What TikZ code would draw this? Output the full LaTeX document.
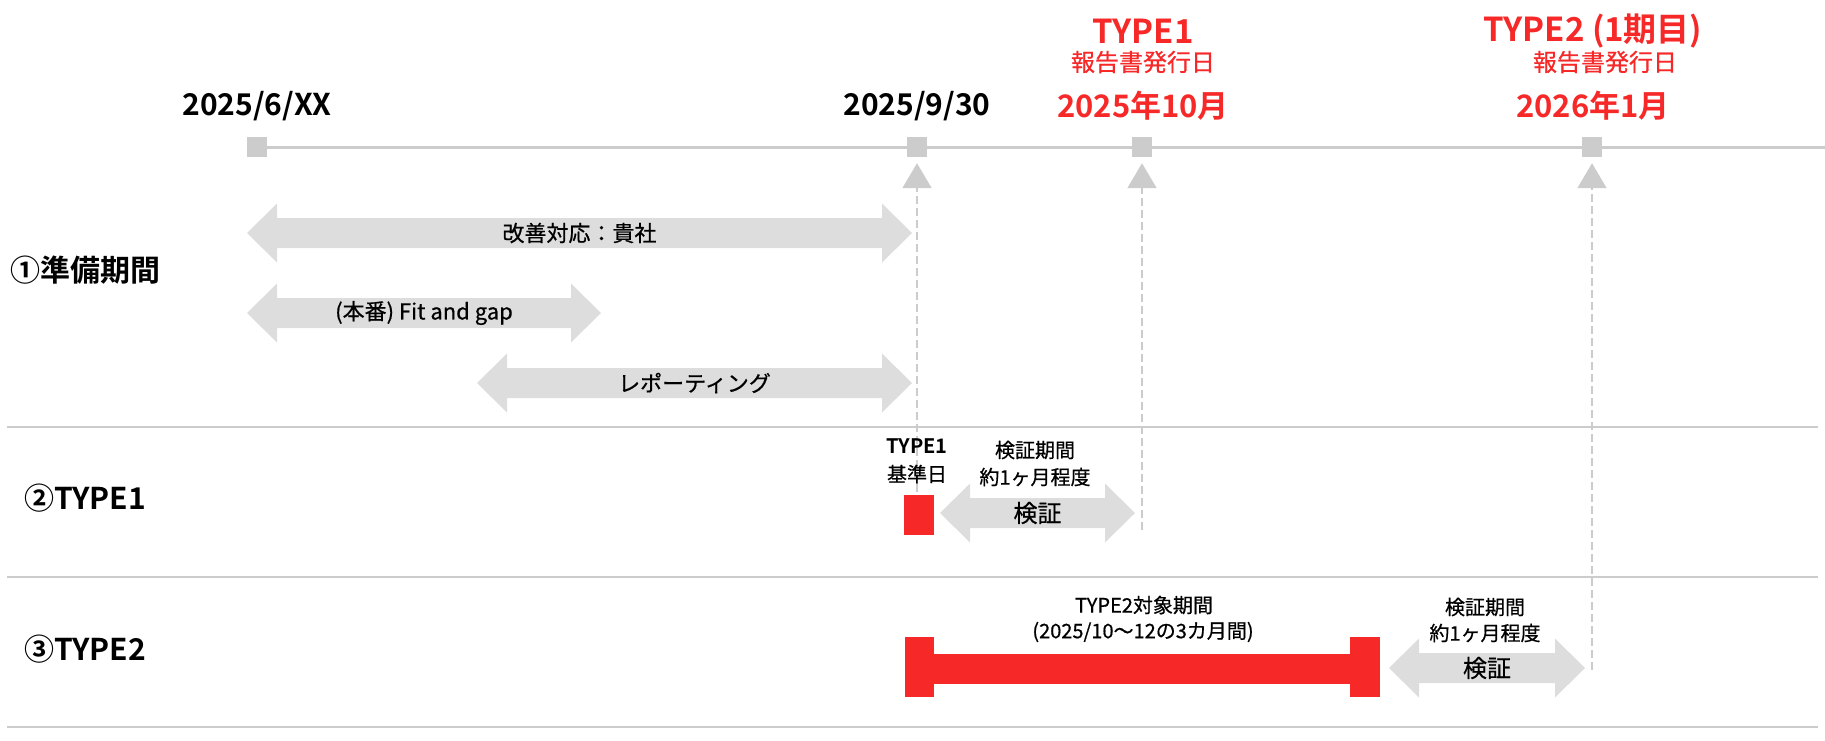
\documentclass[tikz,border=0pt]{standalone}
\usepackage{fontspec}
\setmainfont{Noto Sans CJK JP}[BoldFont={Noto Sans CJK JP Bold}]
\newfontfamily\medfont{Noto Sans CJK JP}[FakeBold=0.6]
\usetikzlibrary{arrows.meta}
\definecolor{linegray}{HTML}{CCCCCC}
\definecolor{boxgray}{HTML}{DDDDDD}
\definecolor{repred}{HTML}{F62828}
\newcommand{\spanarrow}[5]{%
  \fill[boxgray] (#2,#4) -- (#2+30,#4+29.5) -- (#2+30,#4+15) -- (#3-30,#4+15)
    -- (#3-30,#4+29.5) -- (#3,#4) -- (#3-30,#4-29.5) -- (#3-30,#4-15)
    -- (#2+30,#4-15) -- (#2+30,#4-29.5) -- cycle;
  \node[midtext] (#1) at ({(#2+#3)/2},#4) {#5};}
\begin{document}
\begin{tikzpicture}[x=1pt,y=1pt,
    tick/.style={fill=linegray,minimum size=20pt,inner sep=0pt},
    rule/.style={linegray,line width=2pt},
    guide/.style={linegray,line width=2pt,dash pattern=on 8pt off 4pt,shorten >=6pt,
      -{Triangle[width=29pt,length=25pt]}},
    date/.style={inner sep=0pt,font=\bfseries\fontsize{30}{32}\selectfont},
    issue/.style={inner sep=0pt,text=repred,font=\bfseries\fontsize{33}{35}\selectfont},
    issuedate/.style={issue,font=\bfseries\fontsize{31}{33}\selectfont},
    issuesub/.style={inner sep=0pt,text=repred,font=\medfont\fontsize{24}{26}\selectfont},
    rowlab/.style={inner sep=0pt,font=\bfseries\fontsize{30}{32}\selectfont},
    midtext/.style={inner sep=0pt,font=\medfont\fontsize{22}{24}\selectfont},
    note/.style={inner sep=0pt,font=\medfont\fontsize{20}{22}\selectfont}]
  \useasboundingbox (0,0) rectangle (1825,-740);
  \draw[rule,line width=3pt] (257,-147) -- (1825,-147);
  \foreach \x/\n in {257/1,917/2,1142/3,1592/4}
    \node[tick] (t\n) at (\x,-147) {};
  \foreach \y in {-427,-577,-727}
    \draw[rule] (7,\y) -- (1818,\y);
  \coordinate (e2) at (917,-492);
  \coordinate (e3) at (1142,-530);
  \coordinate (e4) at (1592,-670);
  \foreach \n in {2,3,4}
    \draw[guide] (e\n) -- (t\n.south);
  \node[date] (d1) at (257,-106) {2025/6/XX};
  \node[date] (d2) at (917,-106) {2025/9/30};
  \node[issue] (i1) at (1143,-31) {TYPE1};
  \node[issuesub] (s1) at (1143,-62) {報告書発行日};
  \node[issuedate] (m1) at (1143,-106) {2025年10月};
  \node[issue] (i2) at (1593,-31) {TYPE2 (1期目)};
  \node[issuesub] (s2) at (1605,-62) {報告書発行日};
  \node[issuedate] (m2) at (1593,-106) {2026年1月};
  \node[rowlab] (r1) at (85,-270) {①準備期間};
  \node[rowlab] (r2) at (85,-498) {②TYPE1};
  \node[rowlab] (r3) at (85,-649) {③TYPE2};
  \spanarrow{a1}{247}{912}{-233}{改善対応：貴社}
  \spanarrow{a2}{247}{601}{-313}{(本番) Fit and gap}
  \spanarrow{a3}{477}{912}{-383}{レポーティング}
  \spanarrow{v1}{940}{1135}{-513}{\fontsize{24}{26}\selectfont 検証}
  \spanarrow{v2}{1389}{1585}{-668}{\fontsize{24}{26}\selectfont 検証}
  \fill[repred] (904,-495) rectangle (934,-535);
  \fill[repred] (905,-637) rectangle (934,-697);
  \fill[repred] (934,-654) rectangle (1350,-684);
  \fill[repred] (1350,-637) rectangle (1380,-697);
  \node[note,font=\bfseries\fontsize{20}{22}\selectfont] (b1) at (917,-446) {TYPE1};
  \node[note] (b2) at (917,-474) {基準日};
  \node[note] (p1) at (1035,-450) {検証期間};
  \node[note] (p2) at (1035,-477) {約1ヶ月程度};
  \node[note] (q1) at (1144,-605) {TYPE2対象期間};
  \node[note] (q2) at (1143,-632) {(2025/10～12の3カ月間)};
  \node[note] (p3) at (1485,-607) {検証期間};
  \node[note] (p4) at (1485,-633) {約1ヶ月程度};
\end{tikzpicture}
\end{document}
